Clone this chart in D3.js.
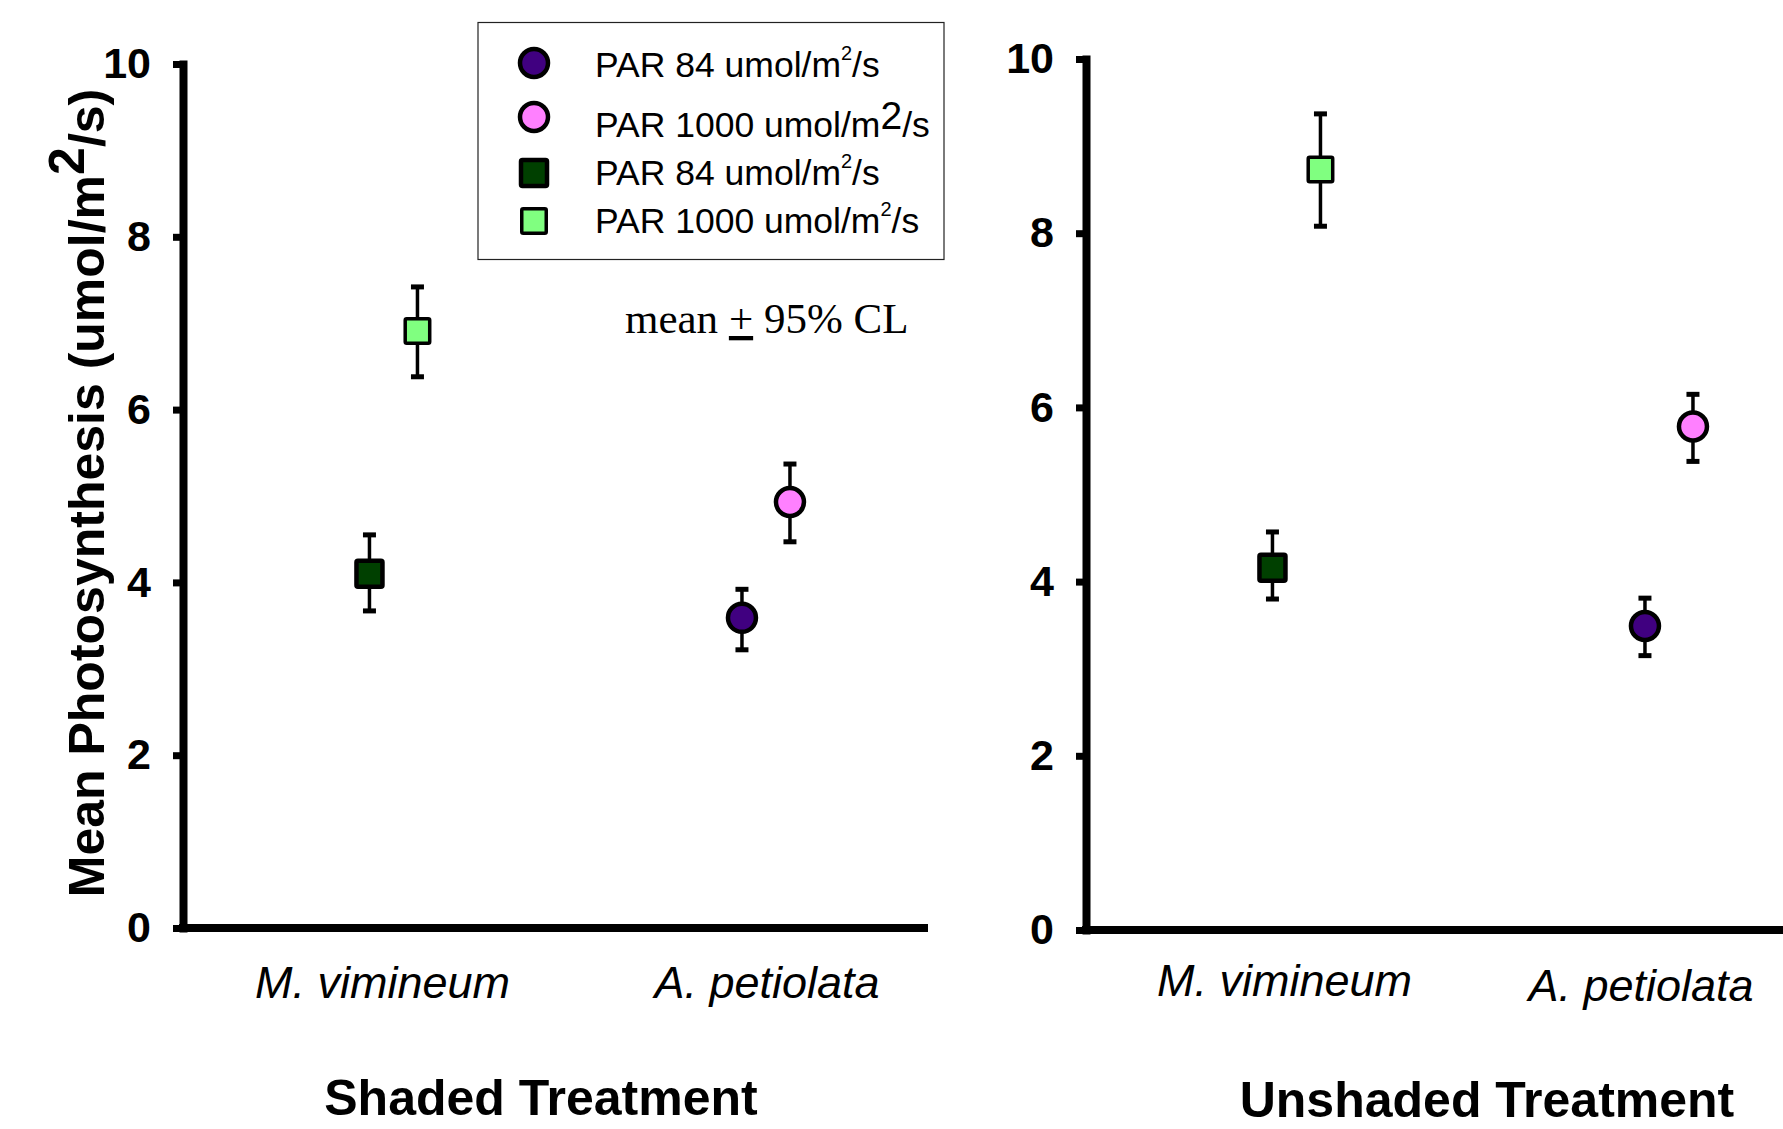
<!DOCTYPE html>
<html>
<head>
<meta charset="utf-8">
<title>Mean Photosynthesis</title>
<style>
  body { margin: 0; background: #fff; }
  svg { display: block; }
</style>
</head>
<body>
<script src="https://cdnjs.cloudflare.com/ajax/libs/d3/7.9.0/d3.min.js"></script>
<script>
const categories = ["M. vimineum", "A. petiolata"];
const treatments = ["Shaded Treatment", "Unshaded Treatment"];
const yTicks = [0, 2, 4, 6, 8, 10];

// series in legend order: circles are A. petiolata, squares are M. vimineum
const seriesPar = ["84", "1000", "84", "1000"];
const seriesCategory = ["A. petiolata", "A. petiolata", "M. vimineum", "M. vimineum"];

const shadedMean  = [3.59, 4.93, 4.10, 6.91];
const shadedLower = [3.22, 4.47, 3.67, 6.38];
const shadedUpper = [3.92, 5.37, 4.55, 7.42];

const unshadedMean  = [3.49, 5.78, 4.16, 8.73];
const unshadedLower = [3.15, 5.38, 3.80, 8.08];
const unshadedUpper = [3.81, 6.15, 4.57, 9.37];

const width = 1783;
const height = 1129;
const fills = ["#400080", "#ff80ff", "#004000", "#80ff80"];
const shapes = ["circle", "circle", "square", "square"];
const sansFont = "'Liberation Sans', Arial, sans-serif";

const panels = [
    {title: treatments[0], mean: shadedMean, lower: shadedLower, upper: shadedUpper,
     left: 183, top: 64, bottom: 928, titleX: 541, titleY: 1115,
     labelDx: [-11, 1], labelY: [998, 998]},
    {title: treatments[1], mean: unshadedMean, lower: unshadedLower, upper: unshadedUpper,
     left: 1086, top: 59, bottom: 930, titleX: 1487, titleY: 1117,
     labelDx: [-12, -28], labelY: [996, 1001]}
];
const plotWidth = 745;

const svg = d3.select("body")
    .append("svg")
    .attr("width", width)
    .attr("height", height)
    .style("font-family", sansFont);

function drawMarker(sel, i, size) {
    if (shapes[i] === "circle") {
        sel.append("circle")
            .attr("r", size.r)
            .attr("fill", fills[i])
            .attr("stroke", "#000")
            .attr("stroke-width", 4.5);
    } else {
        const s = i === 2 ? size.s : size.s - 1.5;
        sel.append("rect")
            .attr("x", -s / 2)
            .attr("y", -s / 2)
            .attr("width", s)
            .attr("height", s)
            .attr("rx", 1.5)
            .attr("fill", fills[i])
            .attr("stroke", "#000")
            .attr("stroke-width", i === 2 ? 4.5 : 3.5);
    }
}

panels.forEach(function(p) {
    const g = svg.append("g")
        .attr("transform", `translate(${p.left},0)`);

    const y = d3.scaleLinear()
        .domain([0, 10])
        .range([p.bottom, p.top]);

    const x = d3.scalePoint()
        .domain(categories)
        .range([0, plotWidth])
        .padding(0.5)
        .align(0.565);

    const dx = d3.scalePoint()
        .domain(["84", "1000"])
        .range([-24, 24]);

    // y axis
    const yAxis = g.append("g")
        .call(d3.axisLeft(y).tickValues(yTicks).tickSize(10).tickSizeOuter(0).tickPadding(22));
    yAxis.select(".domain")
        .attr("stroke-width", 8)
        .attr("stroke-linecap", "square");
    yAxis.selectAll(".tick line")
        .attr("stroke-width", 7);
    yAxis.selectAll(".tick text")
        .attr("font-family", sansFont)
        .attr("font-weight", "bold")
        .attr("font-size", 43)
        .attr("fill", "#000");

    // x axis line
    g.append("line")
        .attr("x1", -4)
        .attr("x2", plotWidth)
        .attr("y1", y(0))
        .attr("y2", y(0))
        .attr("stroke", "#000")
        .attr("stroke-width", 8);

    // category labels
    categories.forEach(function(c, ci) {
        g.append("text")
            .attr("x", x(c) + p.labelDx[ci])
            .attr("y", p.labelY[ci])
            .attr("text-anchor", "middle")
            .attr("font-style", "italic")
            .attr("font-size", 45)
            .text(c);
    });

    const pts = seriesPar.map((par, i) => ({
        i: i,
        cx: x(seriesCategory[i]) + dx(par),
        mean: p.mean[i],
        lo: p.lower[i],
        hi: p.upper[i]
    }));

    // error bars
    const bars = g.selectAll(".err")
        .data(pts)
        .enter()
        .append("g")
        .attr("class", "err");
    bars.append("line")
        .attr("x1", d => d.cx)
        .attr("x2", d => d.cx)
        .attr("y1", d => y(d.lo))
        .attr("y2", d => y(d.hi))
        .attr("stroke", "#000")
        .attr("stroke-width", 3.5);
    bars.selectAll(".cap")
        .data(d => [[d.cx, d.lo], [d.cx, d.hi]])
        .enter()
        .append("line")
        .attr("x1", d => d[0] - 6.5)
        .attr("x2", d => d[0] + 6.5)
        .attr("y1", d => y(d[1]))
        .attr("y2", d => y(d[1]))
        .attr("stroke", "#000")
        .attr("stroke-width", 5);

    // markers
    pts.forEach(function(d) {
        const m = g.append("g")
            .attr("transform", `translate(${d.cx},${y(d.mean)})`);
        drawMarker(m, d.i, {r: 14, s: 26});
    });

    // treatment title
    svg.append("text")
        .attr("x", p.titleX)
        .attr("y", p.titleY)
        .attr("text-anchor", "middle")
        .attr("font-weight", "bold")
        .attr("font-size", 50)
        .text(p.title);
});

// y axis title
const yTitle = svg.append("text")
    .attr("transform", "translate(104,493) rotate(-90)")
    .attr("text-anchor", "middle")
    .attr("font-weight", "bold")
    .attr("font-size", 50);
yTitle.append("tspan").text("Mean Photosynthesis (umol/m");
yTitle.append("tspan").attr("dy", -20).text("2");
yTitle.append("tspan").attr("dy", 20).text("/s)");

// legend
const legendRowY = [63, 117, 173, 221];
const legendTextY = [77, 137, 185, 233];
const legendSupSize = [20, 39, 20, 20];
const legendSupRaise = [16.6, 8, 16.6, 16.6];

const legend = svg.append("g");
legend.append("rect")
    .attr("x", 478)
    .attr("y", 22.5)
    .attr("width", 466)
    .attr("height", 237)
    .attr("fill", "#fff")
    .attr("stroke", "#222")
    .attr("stroke-width", 1.2);

seriesPar.forEach(function(par, i) {
    const m = legend.append("g")
        .attr("transform", `translate(534,${legendRowY[i]})`);
    drawMarker(m, i, {r: 14, s: 26});

    const t = legend.append("text")
        .attr("x", 595)
        .attr("y", legendTextY[i])
        .attr("font-size", 35.5);
    t.append("tspan").text(`PAR ${par} umol/m`);
    t.append("tspan")
        .attr("font-size", legendSupSize[i])
        .attr("dy", -legendSupRaise[i])
        .text("2");
    t.append("tspan")
        .attr("font-size", 35.5)
        .attr("dy", legendSupRaise[i])
        .text("/s");
});

// note
const note = svg.append("text")
    .attr("x", 625)
    .attr("y", 333)
    .attr("font-family", "'Liberation Serif', 'Times New Roman', serif")
    .attr("font-size", 43);
note.append("tspan").text("mean ");
note.append("tspan").style("text-decoration", "underline").text("+");
note.append("tspan").text(" 95% CL");
</script>
</body>
</html>
